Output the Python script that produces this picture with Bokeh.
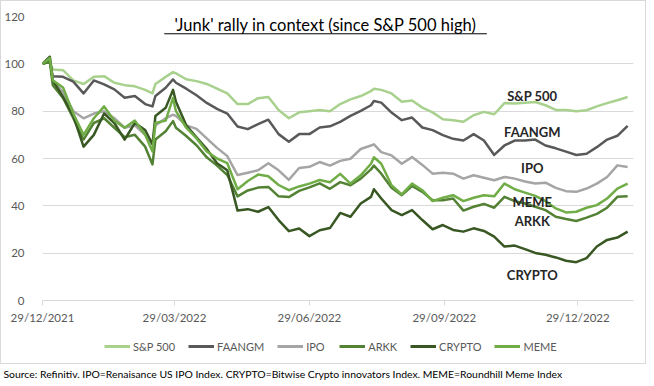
import pandas as pd
from bokeh.plotting import figure
from bokeh.models import (Range1d, FixedTicker, DatetimeTickFormatter, Legend, LegendItem,
                          Label, ColumnDataSource, Column, Title)
from bokeh.embed import file_html
from bokeh.resources import INLINE

# ---------------- data ----------------
dates = ["2021-12-29", "2022-01-03", "2022-01-05", "2022-01-12", "2022-01-19", "2022-01-26",
         "2022-02-02", "2022-02-09", "2022-02-16", "2022-02-23", "2022-03-02", "2022-03-09",
         "2022-03-14", "2022-03-16", "2022-03-23", "2022-03-28", "2022-03-30", "2022-04-06",
         "2022-04-13", "2022-04-20", "2022-04-27", "2022-05-04", "2022-05-11", "2022-05-18",
         "2022-05-25", "2022-06-01", "2022-06-08", "2022-06-15", "2022-06-22", "2022-06-29",
         "2022-07-06", "2022-07-13", "2022-07-20", "2022-07-27", "2022-08-03", "2022-08-10",
         "2022-08-12", "2022-08-17", "2022-08-24", "2022-08-31", "2022-09-07", "2022-09-14",
         "2022-09-21", "2022-09-28", "2022-10-05", "2022-10-12", "2022-10-19", "2022-10-26",
         "2022-11-02", "2022-11-09", "2022-11-16", "2022-11-23", "2022-11-30", "2022-12-07",
         "2022-12-14", "2022-12-21", "2022-12-28", "2023-01-04", "2023-01-11", "2023-01-18",
         "2023-01-25", "2023-02-01"]

sp500 = [100, 100.8, 97.6, 97.3, 93, 91.5, 94.5, 94.8, 92, 91, 90.5, 89,
         87.5, 91.5, 94.5, 96.5, 96, 93.5, 92.7, 91.5, 89.5, 87.5, 83, 83,
         85.5, 86, 80.5, 77, 79.5, 80, 80.5, 80, 83, 85, 86.4, 88.5,
         89.5, 89, 87.5, 84, 84.5, 81.5, 79.5, 76.6, 76.2, 75.5, 78.3, 79.7,
         78.7, 83.4, 83.2, 83.6, 83.9, 82.5, 80.5, 80.5, 80, 80.4, 82, 83.4,
         84.6, 86]
faangm = [100, 101, 94.8, 94.5, 92.5, 87.5, 93, 91.3, 89.2, 85.7, 86.4, 83,
          82, 86.4, 89.9, 93.4, 92, 89.5, 86.7, 83.5, 81, 79, 73.5, 72.4,
          74.5, 76.4, 70.3, 67.1, 70.3, 70.3, 73.1, 73.6, 75.5, 78, 80.1, 82.5,
          84.3, 83.6, 79.4, 76.2, 77.3, 73.1, 72, 69.9, 68.3, 67.6, 70.3, 67.6,
          61.5, 65.5, 67.6, 67.6, 68, 65.5, 64.3, 62.9, 61.5, 62, 64.8, 68,
          69.6, 73.8]
ipo = [100, 102, 93, 88, 80, 77, 79, 80, 77, 73, 74, 70,
       66, 74, 77, 78.5, 78, 74, 72.5, 68.5, 64.5, 61, 53, 54,
       55, 58, 55, 51, 56, 56.5, 58.5, 57, 59, 59.9, 64, 65.5,
       66, 62.7, 61.3, 57.8, 60.6, 57.3, 53.6, 54, 53.6, 51.5, 52.9, 51.9,
       50.8, 52.2, 51.5, 50.3, 49.4, 49.8, 47.6, 46.2, 45.9, 47.3, 49.4, 52.2,
       57.1, 56.4]
arkk = [100, 101, 91, 85.6, 77, 68, 75, 77, 73, 69, 70, 65,
        57.5, 68, 71.5, 75.8, 73, 69.5, 65.6, 60.5, 57, 53, 44, 46.5,
        47.7, 48, 44, 43.7, 46.3, 47.8, 49.5, 47.2, 50, 48.7, 51.5, 55.4,
        57, 53.6, 47.6, 44.5, 48.4, 45.9, 42.4, 42.4, 43.1, 38, 39.6, 40.8,
        39.2, 43.8, 42, 41, 39.6, 38.2, 35.4, 34.4, 33.6, 35, 36.6, 39.2,
        43.8, 44]
crypto = [100, 103, 93, 86, 78, 65, 70, 79, 75, 68, 75, 72,
          66, 78, 81.4, 89, 84, 74, 69, 64, 58, 55, 38, 38.6,
          37.5, 39.5, 34, 29.3, 30.4, 27.2, 29.7, 30.6, 37, 35.4, 41, 43.8,
          47, 43.1, 38.2, 36.1, 38.2, 34, 30.1, 31.9, 29.8, 29.1, 30.5, 29.4,
          27, 22.8, 23.2, 21.7, 20.1, 19.3, 18.2, 16.8, 16.2, 17.9, 22.8, 25.6,
          26.6, 29.1]
meme = [100, 102.5, 93, 90, 79, 70, 77, 82, 76, 73, 76, 70,
        63, 75, 76, 85.6, 80, 73, 68.5, 63, 60, 58, 47, 50.5,
        53.2, 52.5, 48.8, 46.6, 48.2, 49.4, 50.9, 50, 53.5, 49.4, 52.9, 57.8,
        60.5, 57.8, 48.7, 44.8, 49.4, 46.6, 42, 43.4, 44.5, 42, 43.4, 44.5,
        44, 49.4, 47, 45.6, 44.2, 42, 38.9, 37.2, 37.5, 39.2, 40.3, 43.1,
        47.3, 49.4]

series_names = ["S&P 500", "FAANGM", "IPO", "ARKK", "CRYPTO", "MEME"]
series_values = [sp500, faangm, ipo, arkk, crypto, meme]
series_colors = ["#a9d18e", "#595959", "#a5a5a5", "#548235", "#385723", "#70ad47"]

tick_dates = ["2021-12-29", "2022-03-29", "2022-06-29", "2022-09-29", "2022-12-29"]
y_ticks = [0, 20, 40, 60, 80, 100, 120]

title_text = "'Junk' rally in context (since S&P 500 high)"
source_text = ("Source: Refinitiv. IPO=Renaisance US IPO Index. CRYPTO=Bitwise Crypto innovators "
               "Index. MEME=Roundhill Meme Index")

# end-of-line labels: (text, date, value)
line_labels = [("S&P 500", "2022-11-28", 86.5),
               ("FAANGM", "2022-11-28", 71.0),
               ("IPO", "2022-11-28", 56.0),
               ("MEME", "2022-11-28", 41.5),
               ("ARKK", "2022-11-28", 33.5),
               ("CRYPTO", "2022-11-28", 10.8)]

FONT = "Lato"
BOX = "1px solid #d9d9d9"
W = 646

# ---------------- main chart ----------------
x = pd.to_datetime(dates)
p = figure(width=W, height=328, x_axis_type="datetime", output_backend="svg",
           toolbar_location=None,
           x_range=Range1d(pd.Timestamp("2021-12-29"), pd.Timestamp("2023-02-05")),
           y_range=Range1d(0, 120),
           min_border_left=41, min_border_right=14, min_border_top=15, min_border_bottom=29)
p.styles = {"border-top": BOX, "border-left": BOX, "border-right": BOX}
p.outline_line_color = None
p.background_fill_color = "white"
p.border_fill_color = "white"

p.yaxis.ticker = FixedTicker(ticks=y_ticks)
p.yaxis.axis_line_color = None
p.yaxis.major_tick_line_color = None
p.yaxis.minor_tick_line_color = None
p.yaxis.major_label_standoff = 12
p.yaxis.major_label_text_font = FONT
p.yaxis.major_label_text_font_size = "11.5px"
p.yaxis.major_label_text_color = "#595959"

tick_ms = [pd.Timestamp(d).value // 10**6 for d in tick_dates]
p.xaxis.ticker = FixedTicker(ticks=tick_ms)
fmt = "%d/%m/%Y"
p.xaxis.formatter = DatetimeTickFormatter(microseconds=fmt, milliseconds=fmt, seconds=fmt,
                                          minsec=fmt, minutes=fmt, hourmin=fmt, hours=fmt,
                                          days=fmt, months=fmt, years=fmt)
p.xaxis.axis_line_color = "#d9d9d9"
p.xaxis.major_tick_line_color = "#d9d9d9"
p.xaxis.major_tick_in = 0
p.xaxis.major_tick_out = 5
p.xaxis.minor_tick_line_color = None
p.xaxis.major_label_standoff = 5
p.xaxis.major_label_text_font = FONT
p.xaxis.major_label_text_font_size = "11.5px"
p.xaxis.major_label_text_color = "#595959"

p.xgrid.grid_line_color = None
p.ygrid.grid_line_color = "#d9d9d9"
p.ygrid.grid_line_width = 1

sources = []
for name, vals, col in zip(series_names, series_values, series_colors):
    src = ColumnDataSource(dict(x=x, y=vals))
    sources.append(src)
    p.line("x", "y", source=src, line_color=col, line_width=2.5, line_join="round")

for txt, d, v in line_labels:
    p.add_layout(Label(x=pd.Timestamp(d), y=v, text=txt, text_align="center",
                       text_baseline="middle", text_font=FONT, text_font_size="13px",
                       text_font_style="bold", text_color="#262626"))

title_x = pd.Timestamp("2022-07-10")
p.add_layout(Label(x=title_x, y=116.5, text=title_text, text_align="center",
                   text_baseline="middle", text_font=FONT, text_font_size="16.5px",
                   text_color="#000000"))
p.segment(x0=[pd.Timestamp("2022-03-22")], x1=[pd.Timestamp("2022-10-28")],
          y0=[112.7], y1=[112.7], line_color="#000000", line_width=1)

# ---------------- legend strip ----------------
q = figure(width=W, height=36, output_backend="svg", toolbar_location=None,
           x_range=Range1d(0, 591), y_range=Range1d(0, 36),
           min_border=0, min_border_left=0, min_border_right=0,
           min_border_top=0, min_border_bottom=0,
           x_axis_location=None, y_axis_location=None)
q.styles = {"border-bottom": BOX, "border-left": BOX, "border-right": BOX}
q.grid.visible = False
q.outline_line_color = None
q.background_fill_color = "white"
q.border_fill_color = "white"

items = []
for name, src, col in zip(series_names, sources, series_colors):
    # same series; the strip's ranges keep the lines themselves out of view
    r = q.line("x", "y", source=src, line_color=col, line_width=3)
    items.append(LegendItem(label=name, renderers=[r]))

legend = Legend(items=items, orientation="horizontal", location=(62, 11),
                glyph_width=26, glyph_height=14, label_text_font=FONT,
                label_text_font_size="11px", label_text_color="#595959",
                label_standoff=3, spacing=13, padding=0, margin=0,
                border_line_color=None, background_fill_alpha=0)
q.add_layout(legend)

# ---------------- source line ----------------
s = figure(width=W, height=17, output_backend="svg", toolbar_location=None,
           x_range=Range1d(0, 1), y_range=Range1d(0, 1),
           min_border=0, min_border_left=0, min_border_right=0,
           min_border_top=0, min_border_bottom=0,
           x_axis_location=None, y_axis_location=None)
s.grid.visible = False
s.outline_line_color = None
s.background_fill_color = "white"
s.border_fill_color = "white"
s.add_layout(Title(text=source_text, align="left", offset=-38, standoff=2,
                   text_font=FONT, text_font_size="10.4px", text_font_style="normal",
                   text_color="#000000"), "above")

layout = Column(children=[p, q, s], spacing=0)
open("out.html", "w").write(file_html(layout, INLINE))
